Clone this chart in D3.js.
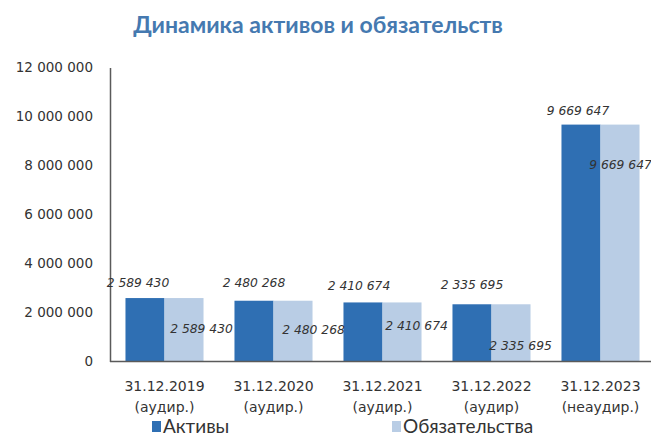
<!DOCTYPE html>
<html><head><meta charset="utf-8">
<script src="https://cdn.jsdelivr.net/npm/d3@7"></script>
<style>html,body{margin:0;padding:0;background:#fff;}svg{display:block;}</style>
</head><body>
<script>
// ---- data ----
const categories = ["31.12.2019|(аудир.)","31.12.2020|(аудир.)","31.12.2021|(аудир.)","31.12.2022|(аудир)","31.12.2023|(неаудир.)"];
const seriesNames = ["Активы","Обязательства"];
const assets = [2589430, 2480268, 2410674, 2335695, 9669647];
const liabilities = [2589430, 2480268, 2410674, 2335695, 9669647];
const yTicks = [0, 2000000, 4000000, 6000000, 8000000, 10000000, 12000000];
const title = "Динамика активов и обязательств";

// ---- layout (label nudges as placed in the original) ----
const assetLabelNudge = [[-7,-15],[0,-17],[-4,-16],[0,-19],[-3,-13]];
const liabLabelNudge  = [[-2,31],[1,30],[-5,24],[-10,42],[-19,41]];
const colors = ["#2f6fb3", "#b9cde5"];

const W = 651, H = 437;
const svg = d3.select("body").append("svg").attr("width", W).attr("height", H);
svg.append("rect").attr("width", W).attr("height", H).attr("fill", "#fff");

const y = d3.scaleLinear().domain([0, 12000000]).range([361.5, 67.5]);
const x0 = d3.scaleBand().domain(categories).range([110, 655]).paddingInner(0.284).paddingOuter(0.142);
const x1 = d3.scaleBand().domain(seriesNames).range([0, x0.bandwidth()]);
const fmt = v => d3.format(",")(v).replace(/,/g, " ");

// title
svg.append("text").attr("x", 318).attr("y", 33).attr("text-anchor", "middle")
  .attr("font-family", "Lato, 'Open Sans', sans-serif").attr("font-weight", "bold")
  .attr("font-size", 23).attr("fill", "#4579b0").text(title);

// bars
const data = categories.map((c, i) => ({c, vals: [assets[i], liabilities[i]], i}));
const g = svg.append("g");
data.forEach(d => {
  seriesNames.forEach((s, k) => {
    g.append("rect")
      .attr("x", x0(d.c) + x1(s)).attr("y", y(d.vals[k]))
      .attr("width", x1.bandwidth()).attr("height", y(0) - y(d.vals[k]))
      .attr("fill", colors[k]);
  });
});

// y axis
const yAxis = svg.append("g").attr("transform", "translate(110,0)")
  .call(d3.axisLeft(y).tickValues(yTicks).tickSize(0).tickPadding(17).tickFormat(fmt).tickSizeOuter(0));
yAxis.select(".domain").attr("stroke", "#5a5a5a").attr("stroke-width", 1.5);
yAxis.selectAll("text").attr("font-family", "'DejaVu Sans', sans-serif").attr("font-size", 13.5).attr("fill", "#333");

// x axis baseline
svg.append("line").attr("x1", 110).attr("x2", W).attr("y1", y(0)).attr("y2", y(0))
  .attr("stroke", "#5a5a5a").attr("stroke-width", 1.5);

// category labels
const catG = svg.append("g");
categories.forEach(c => {
  const cx = x0(c) + x0.bandwidth() / 2;
  const parts = c.split("|");
  parts.forEach((p, j) => {
    catG.append("text").attr("x", cx).attr("y", 391 + j * 21).attr("text-anchor", "middle")
      .attr("font-family", "'DejaVu Sans', sans-serif").attr("font-size", 14).attr("fill", "#333").text(p);
  });
});

// data labels
data.forEach(d => {
  const ax = x0(d.c) + x1(seriesNames[0]) + x1.bandwidth() / 2;
  svg.append("text").attr("x", ax + assetLabelNudge[d.i][0]).attr("y", y(d.vals[0]) + assetLabelNudge[d.i][1])
    .attr("text-anchor", "middle").attr("dominant-baseline", "middle")
    .attr("font-family", "'DejaVu Sans', sans-serif").attr("font-style", "italic").attr("font-size", 12.3)
    .attr("fill", "#333").text(fmt(d.vals[0]));
  const lx = x0(d.c) + x1(seriesNames[1]) + x1.bandwidth();
  svg.append("text").attr("x", lx + liabLabelNudge[d.i][0]).attr("y", y(d.vals[1]) + liabLabelNudge[d.i][1])
    .attr("text-anchor", "middle").attr("dominant-baseline", "middle")
    .attr("font-family", "'DejaVu Sans', sans-serif").attr("font-style", "italic").attr("font-size", 12.3)
    .attr("fill", "#333").text(fmt(d.vals[1]));
});

// legend
const legendX = [152, 392];
seriesNames.forEach((s, k) => {
  svg.append("rect").attr("x", legendX[k]).attr("y", 421).attr("width", 9).attr("height", 11).attr("fill", colors[k]);
  svg.append("text").attr("x", legendX[k] + 11).attr("y", 433)
    .attr("font-family", "Lato, 'Open Sans', sans-serif").attr("font-size", 19).attr("fill", "#333").text(s);
});
</script>
</body></html>
